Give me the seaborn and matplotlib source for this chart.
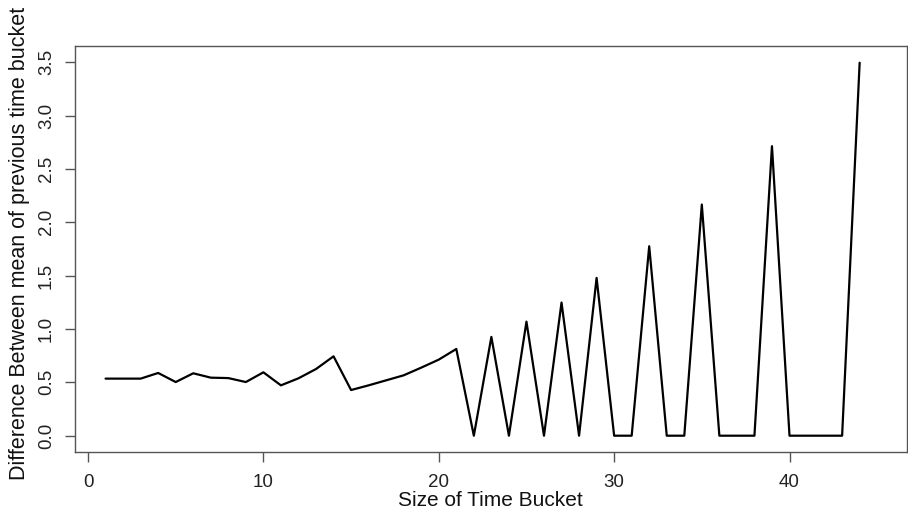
import matplotlib
matplotlib.use("Agg")
import matplotlib.pyplot as plt
import seaborn as sns
import pandas as pd

bucket_size = list(range(1, 45))
mean_diff = [0.535, 0.535, 0.535, 0.588, 0.503, 0.585, 0.544, 0.540, 0.503, 0.594,
             0.472, 0.538, 0.625, 0.744, 0.428, 0.472, 0.519, 0.566, 0.638, 0.713,
             0.813, 0.0, 0.926, 0.0, 1.069, 0.0, 1.248, 0.0, 1.479, 0.0,
             0.0, 1.776, 0.0, 0.0, 2.167, 0.0, 0.0, 0.0, 2.714, 0.0,
             0.0, 0.0, 0.0, 3.496]
x_ticks = [0, 10, 20, 30, 40]
y_ticks = [0.0, 0.5, 1.0, 1.5, 2.0, 2.5, 3.0, 3.5]
y_tick_labels = ["0.0", "0.5", "1.0", "1.5", "2.0", "2.5", "3.0", "3.5"]

sns.set_style("ticks")
plt.rcParams['font.family'] = ['Liberation Sans', 'DejaVu Sans']

df = pd.DataFrame({"size": bucket_size, "diff": mean_diff})

fig = plt.figure(figsize=(9.08, 5.12), dpi=100)
ax = fig.add_axes([74.7 / 908, 1 - 451.7 / 512, (907 - 74.7) / 908, (451.7 - 46.3) / 512])

sns.lineplot(data=df, x="size", y="diff", ax=ax, color="black", linewidth=1.6)

ax.set_xlim(-0.76, 46.7)
ax.set_ylim(-0.15, 3.65)
ax.set_xticks(x_ticks)
ax.set_xticklabels([str(t) for t in x_ticks])
ax.set_yticks(y_ticks)
ax.set_yticklabels(y_tick_labels, rotation=90, va="center")

for s in ax.spines.values():
    s.set_visible(True)
    s.set_color("#555555")
    s.set_linewidth(1.0)

ax.tick_params(axis="both", direction="out", length=7.2, width=1.0, color="#555555",
               labelsize=13.5, labelcolor="#222222")
ax.tick_params(axis="x", pad=8.5)
ax.tick_params(axis="y", pad=7.0)

ax.set_xlabel("Size of Time Bucket", fontsize=15, color="#111111")
ax.set_ylabel("Difference Between mean of previous time bucket", fontsize=15.5, color="#111111")
ax.xaxis.set_label_coords(0.5, (451.7 - 500) / 405.4)
ax.yaxis.set_label_coords((20 - 74.7) / 832.3, (451.7 - 243) / 405.4)
ax.xaxis.label.set_va("center")
ax.yaxis.label.set_va("center")

fig.savefig("out.png", dpi=100)
